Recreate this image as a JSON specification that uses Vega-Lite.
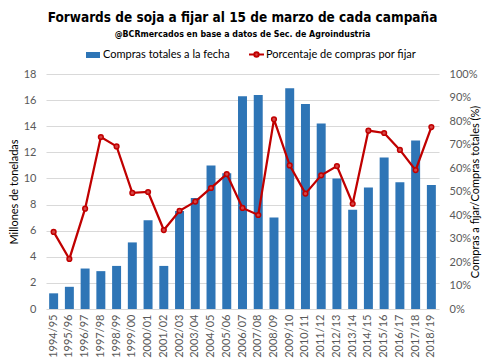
{
  "$schema": "https://vega.github.io/schema/vega-lite/v6.json",
  "autosize": "none",
  "width": 393,
  "height": 235,
  "padding": {"left": 46, "top": 74, "right": 61, "bottom": 53},
  "background": "white",
  "title": {
    "text": "Forwards de soja a fijar al 15 de marzo de cada campaña",
    "subtitle": "@BCRmercados en base a datos de Sec. de Agroindustria",
    "anchor": "middle",
    "offset": 8,
    "font": "DejaVu Sans Condensed, DejaVu Sans, sans-serif",
    "fontSize": 13.5,
    "fontWeight": "bold",
    "color": "#000000",
    "subtitleFont": "DejaVu Sans Condensed, DejaVu Sans, sans-serif",
    "subtitleFontSize": 8.8,
    "subtitleFontWeight": "bold",
    "subtitleColor": "#000000",
    "subtitlePadding": 6
  },
  "config": {
    "view": {"stroke": null},
    "font": "Lato",
    "axis": {"labelFont": "Lato", "titleFont": "Lato"}
  },
  "data": {
    "values": [
      {"campana": "1994/95", "compras": 1.2, "pct": 0.328},
      {"campana": "1995/96", "compras": 1.7, "pct": 0.213},
      {"campana": "1996/97", "compras": 3.1, "pct": 0.427},
      {"campana": "1997/98", "compras": 2.9, "pct": 0.732},
      {"campana": "1998/99", "compras": 3.3, "pct": 0.692},
      {"campana": "1999/00", "compras": 5.1, "pct": 0.494},
      {"campana": "2000/01", "compras": 6.8, "pct": 0.498},
      {"campana": "2001/02", "compras": 3.3, "pct": 0.336},
      {"campana": "2002/03", "compras": 7.5, "pct": 0.418},
      {"campana": "2003/04", "compras": 8.5, "pct": 0.457},
      {"campana": "2004/05", "compras": 11.0, "pct": 0.515},
      {"campana": "2005/06", "compras": 10.4, "pct": 0.574},
      {"campana": "2006/07", "compras": 16.3, "pct": 0.430},
      {"campana": "2007/08", "compras": 16.4, "pct": 0.400},
      {"campana": "2008/09", "compras": 7.0, "pct": 0.807},
      {"campana": "2009/10", "compras": 16.9, "pct": 0.611},
      {"campana": "2010/11", "compras": 15.7, "pct": 0.491},
      {"campana": "2011/12", "compras": 14.2, "pct": 0.569},
      {"campana": "2012/13", "compras": 10.0, "pct": 0.608},
      {"campana": "2013/14", "compras": 7.6, "pct": 0.448},
      {"campana": "2014/15", "compras": 9.3, "pct": 0.759},
      {"campana": "2015/16", "compras": 11.6, "pct": 0.749},
      {"campana": "2016/17", "compras": 9.7, "pct": 0.677},
      {"campana": "2017/18", "compras": 12.9, "pct": 0.591},
      {"campana": "2018/19", "compras": 9.5, "pct": 0.774}
    ]
  },
  "encoding": {
    "x": {
      "field": "campana",
      "type": "ordinal",
      "sort": null,
      "scale": {"paddingInner": 0.43, "paddingOuter": 0.2},
      "axis": {
        "title": null,
        "labelAngle": -90,
        "labelFontSize": 11,
        "labelColor": "#595959",
        "labelPadding": 5,
        "ticks": false,
        "domain": false
      }
    }
  },
  "layer": [
    {
      "mark": {"type": "bar", "color": "#2E75B6"},
      "encoding": {
        "y": {
          "field": "compras",
          "type": "quantitative",
          "scale": {"domain": [0, 18], "nice": false},
          "axis": {
            "title": "Millones de toneladas",
            "titleFontSize": 11,
            "titleColor": "#000000",
            "titleFontWeight": "normal",
            "titlePadding": 4,
            "values": [0, 2, 4, 6, 8, 10, 12, 14, 16, 18],
            "labelFontSize": 11,
            "labelColor": "#595959",
            "labelPadding": 10,
            "ticks": false,
            "domain": false,
            "grid": true,
            "gridColor": "#D9D9D9"
          }
        },
        "color": {
          "datum": "Compras totales a la fecha",
          "scale": {"range": ["#2E75B6"]},
          "legend": {
            "title": null,
            "orient": "none",
            "legendX": 39,
            "legendY": -27,
            "symbolType": "M-1,-0.43H1V0.43H-1Z",
            "symbolSize": 196,
            "labelFontSize": 11,
            "labelColor": "#000000",
            "labelOffset": 2,
            "labelLimit": 300
          }
        }
      }
    },
    {
      "mark": {
        "type": "line",
        "color": "#C00000",
        "strokeWidth": 2.25,
        "point": {"filled": true, "fill": "#D64545", "stroke": "#C00000", "strokeWidth": 1.5, "size": 22}
      },
      "encoding": {
        "y": {
          "field": "pct",
          "type": "quantitative",
          "scale": {"domain": [0, 1], "nice": false},
          "axis": {
            "orient": "right",
            "title": "Compras a fijar/Compras totales (%)",
            "titleAngle": 270,
            "titleFontSize": 11,
            "titleColor": "#000000",
            "titleFontWeight": "normal",
            "titlePadding": 4,
            "format": ".0%",
            "values": [0, 0.1, 0.2, 0.3, 0.4, 0.5, 0.6, 0.7, 0.8, 0.9, 1],
            "labelFontSize": 11,
            "labelColor": "#595959",
            "labelPadding": 10,
            "ticks": false,
            "domain": false,
            "grid": false
          }
        },
        "stroke": {
          "datum": "Porcentaje de compras por fijar",
          "scale": {"range": ["#C00000"]},
          "legend": {
            "title": null,
            "orient": "none",
            "legendX": 203,
            "legendY": -27,
            "symbolType": "M-1.2,0H-0.35M0.35,0H1.2M0.35,0A0.35,0.35 0 1 1 -0.35,0A0.35,0.35 0 1 1 0.35,0Z",
            "symbolSize": 156,
            "symbolStrokeWidth": 2,
            "symbolFillColor": "#D64545",
            "labelFontSize": 11,
            "labelColor": "#000000",
            "labelOffset": 2,
            "labelLimit": 300
          }
        }
      }
    }
  ],
  "resolve": {"scale": {"y": "independent"}}
}
